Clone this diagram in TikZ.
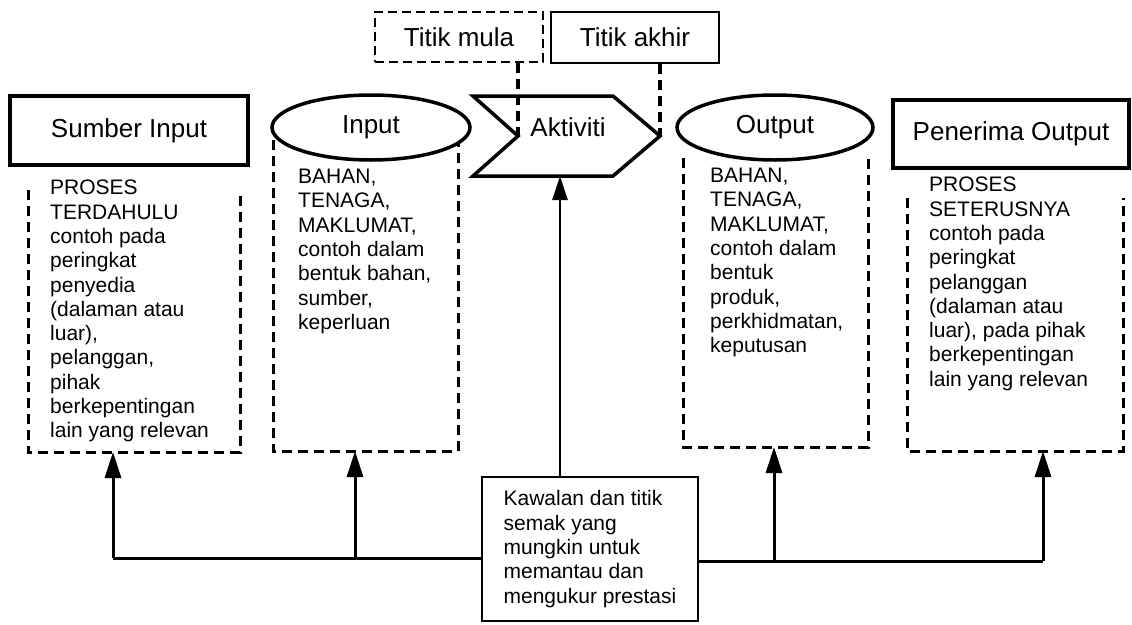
\documentclass[tikz,border=0pt]{standalone}
\usepackage{fontspec}
\setmainfont{Liberation Sans}
\usetikzlibrary{arrows.meta,shapes.geometric,calc}
\begin{document}
\begin{tikzpicture}[x=1pt,y=-1pt,
  hdr/.style={font=\fontsize{26}{30}\selectfont},
  body/.style={font=\fontsize{21}{24.3}\selectfont, align=left, inner sep=0pt, anchor=north west},
  thickbox/.style={draw, line width=3.5pt, inner sep=0pt},
  ghost/.style={inner sep=0pt, outer sep=0pt},
  dline/.style={line width=3pt, dash pattern=on 10pt off 6pt},
  tdash/.style={line width=3.2pt, dash pattern=on 10pt off 6pt},
  arr/.style={line width=3pt, -{Triangle[length=26pt,width=16pt]}},
]
\useasboundingbox (0,0) rectangle (1132,624);

% dashed description boxes (open top, hidden in the original)
\node[ghost, minimum width=212pt, minimum height=262pt] (srcd) at (134,321) {};
\node[ghost, minimum width=185pt, minimum height=311pt] (ind) at (365.5,295.5) {};
\node[ghost, minimum width=185pt, minimum height=289pt] (outd) at (775.5,302.5) {};
\node[ghost, minimum width=216pt, minimum height=253pt] (dstd) at (1015,324.5) {};
\foreach \b in {srcd,ind,outd,dstd}{
  \draw[dline] (\b.north west) -- (\b.south west) -- (\b.south east) -- (\b.north east);
}

% top row
\node[thickbox, minimum width=238pt, minimum height=69pt, hdr] (src) at (129,130.5) {Sumber Input};
\node[ellipse, draw, line width=3.5pt, fill=white, minimum width=198pt, minimum height=65pt, inner sep=0pt, hdr] (in) at (371,127.5) {Input};
\node[ellipse, draw, line width=3.5pt, fill=white, minimum width=196pt, minimum height=65pt, inner sep=0pt, hdr] (out) at (775,127.5) {Output};
\node[thickbox, minimum width=236pt, minimum height=68pt, hdr] (dst) at (1011,134) {Penerima Output};

% activity arrow shape
\draw[line width=3.5pt, line join=miter] (473,96) -- (613,96) -- (660,136) -- (613,176) -- (473,176) -- (518,136) -- cycle;
\node[hdr, inner sep=0pt] (act) at (568,127) {Aktiviti};
\coordinate (notch) at (518,136);
\coordinate (tip) at (660,136);
\coordinate (actb) at (560,176);

% start / end labels
\node[draw, line width=2.2pt, dash pattern=on 9pt off 5pt, minimum width=168pt, minimum height=50pt, inner sep=0pt, hdr] (mula) at (459,37) {Titik mula};
\node[draw, line width=2pt, minimum width=168pt, minimum height=51pt, inner sep=0pt, hdr] (akhir) at (635,37.5) {Titik akhir};
\draw[tdash] (notch |- mula.south) -- (notch);
\draw[tdash] (tip |- akhir.south) -- (tip);

% descriptions
\node[body] (srct) at (50,180) {PROSES\\TERDAHULU\\contoh pada\\peringkat\\penyedia\\(dalaman atau\\luar),\\pelanggan,\\pihak\\berkepentingan\\lain yang relevan};
\node[body] (int) at (298,169) {BAHAN,\\TENAGA,\\MAKLUMAT,\\contoh dalam\\bentuk bahan,\\sumber,\\keperluan};
\node[body] (outt) at (710,168) {BAHAN,\\TENAGA,\\MAKLUMAT,\\contoh dalam\\bentuk\\produk,\\perkhidmatan,\\keputusan};
\node[body] (dstt) at (929,177) {PROSES\\SETERUSNYA\\contoh pada\\peringkat\\pelanggan\\(dalaman atau\\luar), pada pihak\\berkepentingan\\lain yang relevan};

% control box
\node[draw, line width=1.8pt, minimum width=216pt, minimum height=144pt, inner sep=0pt,
      font=\fontsize{21}{24.3}\selectfont, align=left] (ctrl) at (590,549)
  {Kawalan dan titik\\semak yang\\mungkin untuk\\memantau dan\\mengukur prestasi};

% bus and arrows
\coordinate (b1) at (113,558);
\coordinate (b2) at (355,558);
\coordinate (b3) at (774,561);
\coordinate (b4) at (1043,561);
\draw[line width=3pt] (ctrl.west |- b1) -- (b1);
\draw[line width=3pt] (ctrl.east |- b3) -- (b4);
\draw[arr] (b1) -- (b1 |- srcd.south);
\draw[arr] (b2) -- (b2 |- ind.south);
\draw[arr] (b3) -- (b3 |- outd.south);
\draw[arr] (b4) -- (b4 |- dstd.south);
\draw[line width=2.4pt, -{Triangle[length=24pt,width=15pt]}] (actb |- ctrl.north) -- (actb);
\end{tikzpicture}
\end{document}
